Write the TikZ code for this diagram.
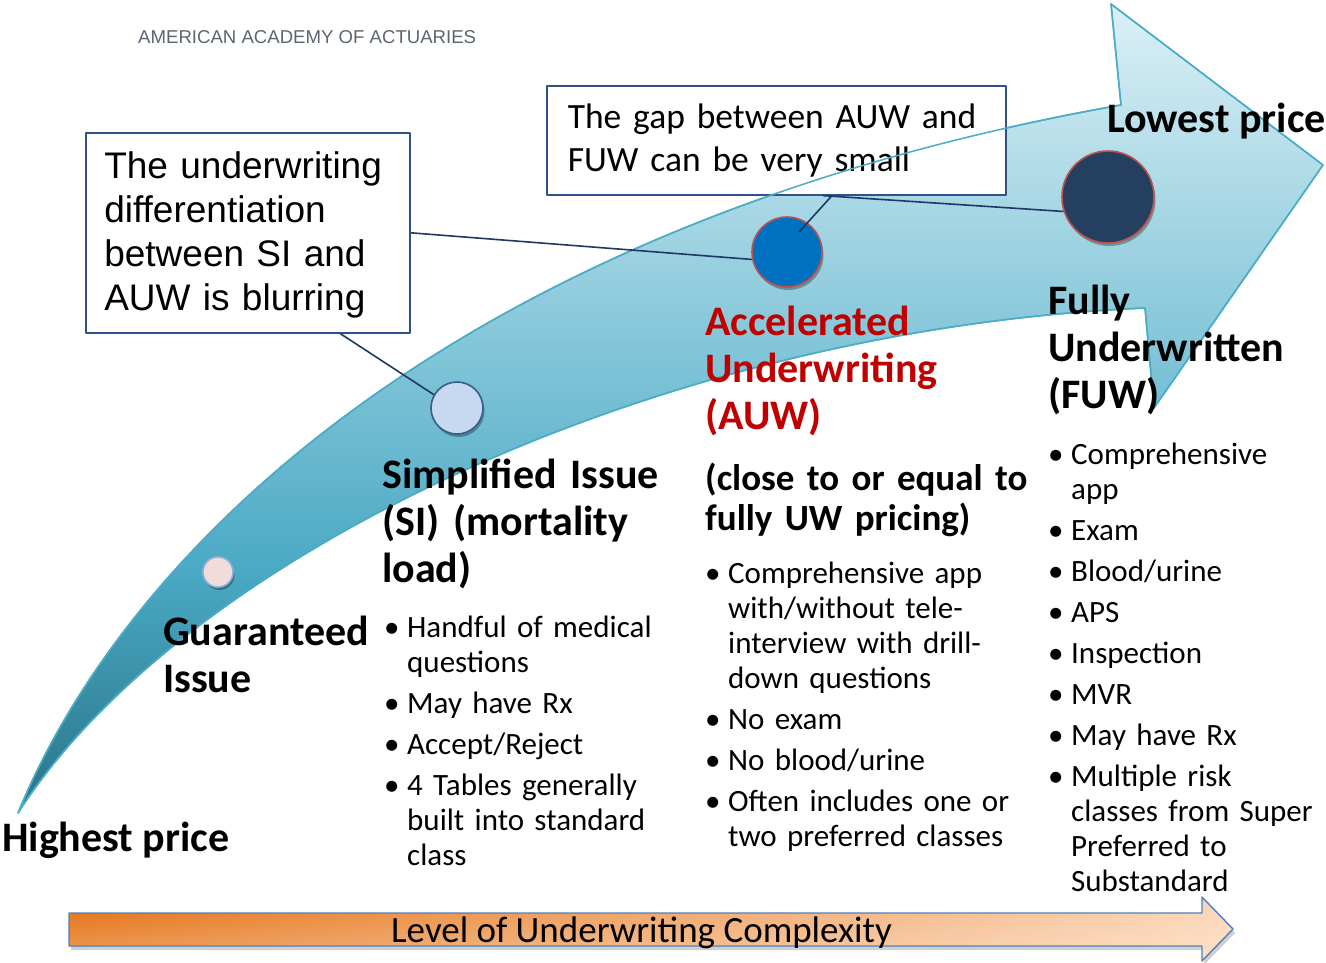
\documentclass[tikz,border=0pt]{standalone}
\usepackage{fontspec}
\setmainfont{Carlito}
\newfontfamily\arialf{Liberation Sans}
\usetikzlibrary{shadows,fadings,calc}
\definecolor{adark}{HTML}{2A7388}
\definecolor{amid1}{HTML}{4AA9C4}
\definecolor{amid2}{HTML}{88C8DA}
\definecolor{alight}{HTML}{DCF0F6}
\definecolor{aline}{HTML}{4BACC6}
\definecolor{boxline}{HTML}{2F528F}
\definecolor{connline}{HTML}{1F3864}
\definecolor{auwred}{HTML}{C00000}
\definecolor{circred}{HTML}{C0504D}
\definecolor{auwfill}{HTML}{0070C0}
\definecolor{fuwfill}{HTML}{243F60}
\definecolor{gifill}{HTML}{F2DCDB}
\definecolor{giline}{HTML}{95B3D7}
\definecolor{sifill}{HTML}{C6D9F1}
\definecolor{siline}{HTML}{385D8A}
\definecolor{hdrgray}{HTML}{5B6573}
\definecolor{orA}{HTML}{E46C0A}
\definecolor{orB}{HTML}{FCD5B5}
\definecolor{orline}{HTML}{4F81BD}
\pgfdeclareverticalshading{arrowshade}{100bp}{color(0bp)=(adark); color(25bp)=(adark); color(40bp)=(amid1); color(55bp)=(amid2); color(75bp)=(alight); color(100bp)=(alight)}
\newcommand\bigarrowpath{(18,813) .. controls (130,540) and (470,220) .. (1121,105) -- (1111,4) -- (1323,165) -- (1154,408) -- (1145,308) .. controls (650,330) and (180,560) .. (18,813) -- cycle}
\newcommand\lowarrowpath{(69,913) -- (1202,913) -- (1202,897) -- (1233,929) -- (1202,961) -- (1202,946) -- (69,946) -- cycle}
\newcommand\bul{\makebox[23pt][l]{•}}
\newcommand\hng{\hspace*{23pt}}
\tikzset{
  callout/.style={draw=boxline, line width=1.6pt, fill=white, align=left, inner ysep=0pt},
  conn/.style={draw=connline, line width=1.6pt},
  headb/.style={font=\fontsize{42}{47}\selectfont\bfseries, align=left, inner sep=0pt, anchor=base west, text width=420pt},
  listt/.style={font=\fontsize{31}{35}\selectfont, align=left, inner sep=0pt, anchor=base west},
  dot/.style={circle, inner sep=0pt, line width=1.6pt, drop shadow={shadow xshift=1.5pt, shadow yshift=-3pt, opacity=0.3, fill=black}},
  arrowline/.style={draw=aline, line width=1.5pt}
}
\begin{document}
\begin{tikzpicture}[x=1pt, y=-1pt, line join=round]
\useasboundingbox[fill=white] (0,0) rectangle (1326,962);
% big curved arrow
\shade[shading=arrowshade] \bigarrowpath;
\draw[arrowline] \bigarrowpath;
% callout boxes
\node[callout, font=\arialf\fontsize{37}{44}\selectfont, text width=287pt, inner xsep=18.5pt, minimum height=200pt, text height=31pt, anchor=north west] (b1) at (85,132) {\mbox{The underwriting}\\\mbox{differentiation}\\\mbox{between SI and}\\\mbox{AUW is blurring}};
\node[callout, font=\fontsize{35.5}{43}\selectfont, text width=417pt, inner xsep=21pt, minimum height=109pt, anchor=north west] (b2) at (546,85) {\mbox{The gap between AUW and}\\\mbox{FUW can be very small}};
\draw[arrowline] \bigarrowpath;
% circles
\node[dot, minimum size=30pt, fill=gifill, draw=giline] (gi) at (218,572) {};
\node[dot, minimum size=52pt, fill=sifill, draw=siline] (si) at (457,408) {};
\node[dot, minimum size=70pt, fill=auwfill, draw=circred] (auw) at (787,252) {};
\node[dot, minimum size=92pt, fill=fuwfill, draw=circred] (fuw) at (1108,197) {};
% connectors
\draw[conn] ($(b1.south west)!0.784!(b1.south east)$) -- (si.150);
\draw[conn] ($(b1.north east)!0.5!(b1.south east)$) -- (auw.192);
\draw[conn] ($(b2.south west)!0.621!(b2.south east)$) -- ($(auw.center)+(12,-20)$);
\draw[conn] ($(b2.south west)!0.601!(b2.south east)$) -- (fuw.198);
% header
\node[anchor=west, inner sep=0pt, font=\arialf\fontsize{18.6}{22}\selectfont, text=hdrgray] (hdr) at (138,37) {AMERICAN ACADEMY OF ACTUARIES};
% price labels
\node[anchor=base west, inner sep=0pt, font=\fontsize{42}{47}\selectfont\bfseries] (lo) at (1107,132) {Lowest price};
\node[anchor=base west, inner sep=0pt, font=\fontsize{42}{47}\selectfont\bfseries] (hi) at (2,851) {Highest price};
% headings
\node[headb] (git) at (163,645) {Guaranteed\\Issue};
\node[headb] (sit) at (382,488) {Simplified Issue\\(SI) (mortality\\load)};
\node[headb, text=auwred] (auwt) at (705,335) {Accelerated\\Underwriting\\(AUW)};
\node[headb] (fuwt) at (1048,314) {Fully\\Underwritten\\(FUW)};
\node[headb, font=\fontsize{37}{40}\selectfont\bfseries] (auwp) at (705,490) {\mbox{(close to or equal to}\\\mbox{fully UW pricing)}};
% lists
\node[listt, text width=320pt] (sil) at (384,637) {\bul Handful of medical\\\hng questions\\[6pt]\bul May have Rx\\[6pt]\bul Accept/Reject\\[6pt]\bul 4 Tables generally\\\hng built into standard\\\hng class};
\node[listt, text width=340pt] (auwl) at (705,583) {\bul Comprehensive app\\\hng with/without tele-\\\hng interview with drill-\\\hng down questions\\[6pt]\bul No exam\\[6pt]\bul No blood/urine\\[6pt]\bul Often includes one or\\\hng two preferred classes};
\node[listt, text width=300pt] (fuwl) at (1048,464) {\bul Comprehensive\\\hng app\\[6pt]\bul Exam\\[6pt]\bul Blood/urine\\[6pt]\bul APS\\[6pt]\bul Inspection\\[6pt]\bul MVR\\[6pt]\bul May have Rx\\[6pt]\bul Multiple risk\\\hng classes from Super\\\hng Preferred to\\\hng Substandard};
% bottom arrow
\fill[black!60, opacity=0.3, shift={(2,4)}] \lowarrowpath;
\shade[left color=orA, right color=orB] \lowarrowpath;
\fill[white, opacity=0.35, path fading=north] \lowarrowpath;
\draw[orline, line width=1.4pt] \lowarrowpath;
\node[anchor=base west, inner sep=0pt, font=\fontsize{37}{40}\selectfont] (lvl) at (391,942) {Level of Underwriting Complexity};
\end{tikzpicture}
\end{document}
